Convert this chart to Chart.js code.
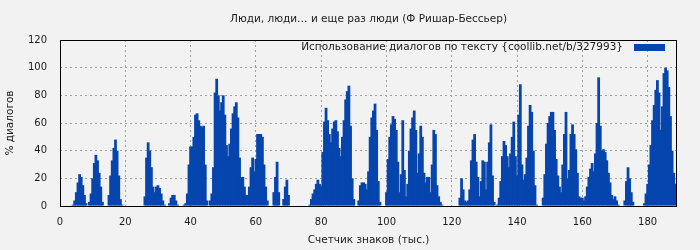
<!DOCTYPE html>
<html>
<head>
<meta charset="utf-8">
<script src="https://cdn.jsdelivr.net/npm/chart.js@4"></script>
<style>
  html, body { margin: 0; padding: 0; background: #f2f2f2; }
  canvas { display: block; }
</style>
</head>
<body>
<canvas id="dialogChart" width="700" height="250"></canvas>
<script>
// share of dialogue, % per 0.5k characters
const xStep = 0.5;
const dialogShare = [
  0, 0, 0, 0, 0, 0, 0, 0, 1, 4,          // 0
  10, 17, 23, 21, 15, 8, 2, 0, 3, 9,     // 5
  20, 31, 37, 33, 24, 14, 3, 0, 0, 0,    // 10
  8, 22, 33, 42, 48, 40, 22, 5, 1, 0,    // 15
  0, 0, 0, 0, 0, 0, 0, 0, 0, 0,          // 20
  0, 0, 7, 35, 46, 40, 28, 14, 10, 14,   // 25
  15, 13, 9, 4, 1, 0, 0, 2, 6, 8,        // 30
  8, 4, 1, 0, 0, 0, 1, 2, 9, 30,         // 35
  43, 43, 50, 66, 67, 62, 58, 57, 58, 30, // 40
  4, 0, 4, 9, 28, 82, 92, 80, 69, 75,    // 45
  80, 66, 44, 36, 45, 56, 67, 72, 75, 64, // 50
  35, 21, 21, 14, 8, 8, 14, 28, 35, 25,  // 55
  34, 52, 52, 52, 50, 30, 14, 4, 0, 0,   // 60
  0, 10, 21, 32, 10, 0, 0, 5, 14, 19,    // 65
  8, 0, 0, 0, 0, 0, 0, 0, 0, 0,          // 70
  0, 0, 0, 1, 5, 9, 12, 16, 19, 16,      // 75
  14, 39, 61, 71, 62, 52, 46, 56, 61, 62, // 80
  54, 42, 36, 50, 62, 77, 83, 87, 58, 20, // 85
  5, 0, 0, 4, 15, 17, 17, 16, 12, 25,    // 90
  50, 64, 69, 74, 55, 18, 3, 0, 0, 0,    // 95
  10, 34, 50, 59, 65, 63, 55, 32, 10, 23, // 100
  62, 26, 7, 16, 40, 56, 64, 69, 55, 24, // 105
  38, 58, 50, 24, 17, 21, 21, 10, 30, 55, // 110
  52, 15, 7, 3, 1, 0, 0, 0, 0, 0,        // 115
  0, 0, 0, 0, 0, 6, 20, 12, 4, 3,        // 120
  4, 12, 33, 48, 52, 32, 21, 7, 18, 33,  // 125
  32, 12, 32, 46, 59, 22, 3, 0, 1, 6,    // 130
  18, 36, 47, 44, 36, 28, 38, 50, 61, 36, // 135
  22, 66, 88, 30, 19, 23, 35, 58, 73, 68, // 140
  40, 15, 1, 0, 0, 0, 6, 23, 45, 60,     // 145
  65, 68, 68, 55, 34, 22, 14, 10, 30, 52, // 150
  68, 20, 26, 52, 59, 52, 41, 24, 7, 6,  // 155
  6, 4, 7, 14, 21, 27, 31, 25, 38, 60,   // 160
  93, 58, 40, 41, 39, 33, 24, 17, 8, 5,  // 165
  7, 4, 1, 0, 0, 0, 4, 18, 28, 20,       // 170
  10, 3, 0, 0, 0, 0, 0, 0, 2, 9,         // 175
  16, 30, 44, 62, 73, 84, 91, 82, 55, 72, // 180
  96, 100, 98, 86, 65, 40, 24, 16, 10    // 185
];
const xTicks = [0, 20, 40, 60, 80, 100, 120, 140, 160, 180];
const yTicks = [0, 20, 40, 60, 80, 100, 120];

const chartTitle = 'Люди, люди… и еще раз люди (Ф Ришар-Бессьер)';
const legendLabel = 'Использование диалогов по тексту {coollib.net/b/327993}';
const xTitle = 'Счетчик знаков (тыс.)';
const yTitle = '% диалогов';

const fillColor = '#0645ad';
const fontFamily = '"DejaVu Sans", sans-serif';

// title, legend and frame like the gnuplot original
const decorPlugin = {
  id: 'decor',
  afterDatasetsDraw(chart) {
    const { ctx, chartArea: a } = chart;
    ctx.save();
    ctx.strokeStyle = '#000';
    ctx.lineWidth = 1;
    ctx.strokeRect(Math.round(a.left) + 0.5, Math.round(a.top) + 0.5,
      Math.round(a.right - a.left) - 1, Math.round(a.bottom - a.top));

    ctx.fillStyle = '#1a1a1a';
    ctx.font = '10.5px ' + fontFamily;
    ctx.textBaseline = 'middle';
    ctx.textAlign = 'center';
    ctx.fillText(chartTitle, (a.left + a.right) / 2, 19);

    ctx.textAlign = 'right';
    ctx.fillText(legendLabel, a.right - 54, a.top + 7);
    ctx.fillStyle = fillColor;
    ctx.fillRect(a.right - 43, a.top + 4, 31, 7);
    ctx.restore();
  }
};

const gridColor = (ctx) => {
  const v = ctx.tick && ctx.tick.value;
  return (v === 0 || v >= 120 && ctx.scale.axis === 'y') ? 'rgba(0,0,0,0)' : '#a0a0a0';
};

new Chart(document.getElementById('dialogChart'), {
  type: 'bar',
  data: {
    datasets: [{
      label: legendLabel,
      data: dialogShare.map((v, i) => ({ x: i * xStep, y: v })),
      backgroundColor: fillColor,
      borderWidth: 0,
      categoryPercentage: 1,
      barPercentage: 1.7
    }]
  },
  options: {
    responsive: false,
    animation: false,
    layout: { padding: { top: 40, right: 23, left: 0, bottom: 0 } },
    plugins: {
      legend: { display: false },
      tooltip: { enabled: false }
    },
    scales: {
      x: {
        type: 'linear',
        min: 0,
        max: 189,
        offset: false,
        afterBuildTicks: (s) => { s.ticks = xTicks.map(v => ({ value: v })); },
        afterFit: (s) => { s.height = 44; },
        ticks: { color: '#1a1a1a', font: { size: 10, family: fontFamily }, padding: 10, maxRotation: 0 },
        grid: { color: gridColor, drawTicks: false, offset: false },
        border: { display: false, dash: [2, 3] },
        title: { display: true, text: xTitle, color: '#1a1a1a', font: { size: 10.5, family: fontFamily }, padding: { top: 0, bottom: 3 } }
      },
      y: {
        min: 0,
        max: 120,
        afterBuildTicks: (s) => { s.ticks = yTicks.map(v => ({ value: v })); },
        afterFit: (s) => { s.width = 60; },
        ticks: { color: '#1a1a1a', font: { size: 10, family: fontFamily }, padding: 13 },
        grid: { color: gridColor, drawTicks: false },
        border: { display: false, dash: [2, 3] },
        title: { display: true, text: yTitle, color: '#1a1a1a', font: { size: 10.5, family: fontFamily }, padding: { top: 4, bottom: 0 } }
      }
    }
  },
  plugins: [decorPlugin]
});
</script>
</body>
</html>
